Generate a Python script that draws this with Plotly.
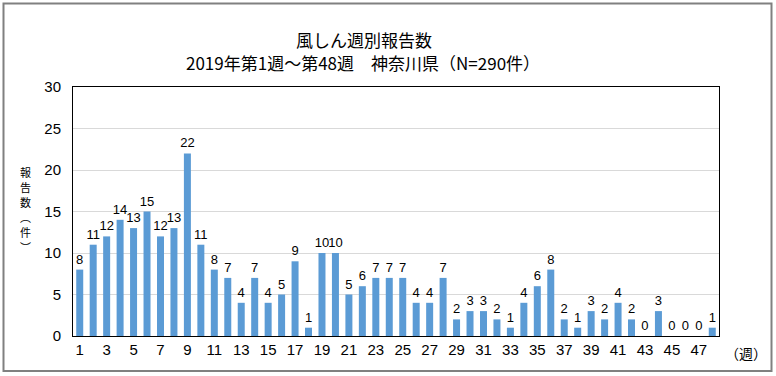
import plotly.graph_objects as go

weeks = list(range(1, 49))
counts = [8, 11, 12, 14, 13, 15, 12, 13, 22, 11, 8, 7, 4, 7, 4, 5, 9, 1, 10, 10,
          5, 6, 7, 7, 7, 4, 4, 7, 2, 3, 3, 2, 1, 4, 6, 8, 2, 1, 3, 2,
          4, 2, 0, 3, 0, 0, 0, 1]
x_ticks = list(range(1, 48, 2))
y_ticks = [0, 5, 10, 15, 20, 25, 30]

title_line1 = "風しん週別報告数"
title_line2 = "2019年第1週～第48週　神奈川県（N=290件）"
y_title_chars = ["報", "告", "数", "︵", "件", "︶"]
num_font = "Liberation Sans Narrow, Arial Narrow, Liberation Sans, sans-serif"
jp_font = "Noto Sans CJK JP, sans-serif"

# plot area in pixels
L, R, T, B = 73, 719, 87, 336
PW, PH = R - L, B - T


def px(x):
    return (x - L) / PW


def py(y):
    return (B - y) / PH


fig = go.Figure()
fig.add_trace(go.Bar(
    x=weeks, y=counts, width=0.52,
    marker=dict(color="#5B9BD5", line=dict(width=0)),
    text=[str(v) for v in counts], textposition="outside",
    textfont=dict(family=num_font, size=13, color="#000000"),
    constraintext="none", cliponaxis=False,
))

annotations = [
    dict(text=title_line1, xref="paper", yref="paper",
         x=px(364), y=py(39), xanchor="center", yanchor="middle",
         showarrow=False, font=dict(family=jp_font, size=17, color="#000000")),
    dict(text=title_line2, xref="paper", yref="paper",
         x=px(363), y=py(62), xanchor="center", yanchor="middle",
         showarrow=False, font=dict(family=jp_font, size=17, color="#000000")),
    dict(text="（週）", xref="paper", yref="paper",
         x=px(746), y=py(353), xanchor="center", yanchor="middle",
         showarrow=False, font=dict(family=jp_font, size=14, color="#000000")),
]
for i, ch in enumerate(y_title_chars):
    annotations.append(dict(text=ch, xref="paper", yref="paper",
                            x=px(25), y=py(172 + i * 15), xanchor="center",
                            yanchor="middle", showarrow=False, borderpad=0,
                            font=dict(family=jp_font, size=11, color="#000000")))

fig.update_layout(
    width=776, height=376,
    margin=dict(l=L, r=776 - R, t=T, b=376 - B),
    paper_bgcolor="white", plot_bgcolor="white",
    showlegend=False,
    xaxis=dict(range=[0.5, 48.5], tickvals=x_ticks, ticktext=[str(t) for t in x_ticks],
               showline=True, linecolor="#000000", linewidth=1, mirror=True,
               showgrid=False, ticks="", zeroline=False,
               tickfont=dict(family=num_font, size=15, color="#000000")),
    yaxis=dict(range=[0, 30], tickvals=y_ticks, showline=True, linecolor="#000000",
               linewidth=1, mirror=True, showgrid=True, gridcolor="#D9D9D9",
               ticks="", zeroline=False, ticklabelstandoff=8,
               tickfont=dict(family=num_font, size=15, color="#000000")),
    shapes=[dict(type="rect", xref="paper", yref="paper",
                 x0=px(3.5), x1=px(771.5), y0=py(371), y1=py(3.5),
                 line=dict(color="#808080", width=2), fillcolor="rgba(0,0,0,0)",
                 layer="below")],
    annotations=annotations,
)

fig.write_html("out.html", config={"displayModeBar": False},
               post_script="document.body.style.margin='0';")
